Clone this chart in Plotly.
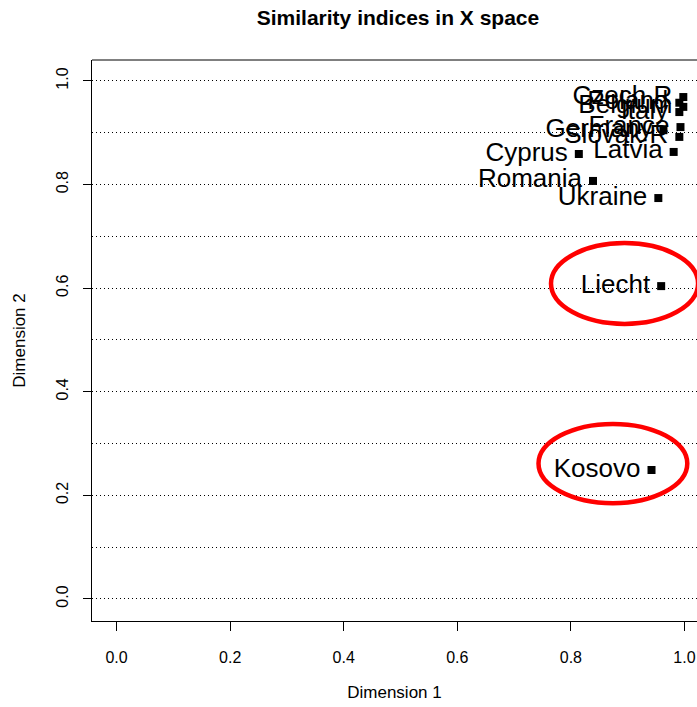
import plotly.graph_objects as go

countries = ["Czech R", "Poland", "Belgium", "Italy", "France", "Germany", "Slovak R",
             "Cyprus", "Latvia", "Romania", "Ukraine", "Liecht", "Kosovo"]
dim1 = [0.998, 0.991, 0.998, 0.991, 0.993, 0.963, 0.991, 0.814, 0.981, 0.839, 0.954, 0.959, 0.942]
dim2 = [0.969, 0.958, 0.950, 0.940, 0.911, 0.905, 0.892, 0.859, 0.863, 0.807, 0.774, 0.604, 0.249]

x_ticks = [0.0, 0.2, 0.4, 0.6, 0.8, 1.0]
y_ticks = [0.0, 0.2, 0.4, 0.6, 0.8, 1.0]

# highlighted regions (data coords)
ellipses = [
    dict(x0=0.765, x1=1.024, y0=0.531, y1=0.687),  # Liecht
    dict(x0=0.743, x1=1.005, y0=0.185, y1=0.338),  # Kosovo
]

FONT = "Liberation Sans, Arial, sans-serif"
X_RANGE = [-0.0433, 1.0221]

fig = go.Figure()
# labels placed to the left of each point
fig.add_trace(go.Scatter(
    x=dim1, y=dim2, mode="text+markers", text=countries,
    textposition="middle left",
    textfont=dict(family=FONT, size=26, color="black"),
    marker=dict(symbol="square", size=16, color="rgba(0,0,0,0)"),
    cliponaxis=False, showlegend=False, hoverinfo="skip",
))
# points (on an overlaid x axis that carries the visible short ticks)
fig.add_trace(go.Scatter(
    x=dim1, y=dim2, mode="markers", text=countries, xaxis="x2", yaxis="y",
    marker=dict(symbol="square", size=8, color="black"),
    cliponaxis=False, showlegend=False, hoverinfo="text",
))

shapes = []
for e in ellipses:
    shapes.append(dict(type="circle", xref="x", yref="y", **e,
                       line=dict(color="#ff0000", width=4.5), layer="above"))
# top frame line
shapes.append(dict(type="line", xref="paper", yref="paper", x0=0, x1=1, y0=1, y1=1,
                   line=dict(color="black", width=1)))

fig.update_layout(
    width=697, height=707,
    margin=dict(l=92, r=0, t=60, b=86),
    paper_bgcolor="white", plot_bgcolor="white",
    font=dict(family=FONT, size=15, color="black"),
    title=dict(text="<b>Similarity indices in X space</b>", x=0.571, xanchor="center",
               y=1 - 18 / 707, yanchor="middle", font=dict(family=FONT, size=21, color="black")),
    shapes=shapes,
    xaxis=dict(
        range=X_RANGE, tickvals=x_ticks, ticktext=[f"{v:.1f}" for v in x_ticks],
        showgrid=False, zeroline=False, showline=True, linecolor="black", linewidth=1,
        ticks="outside", ticklen=22, tickcolor="rgba(0,0,0,0)",
        tickfont=dict(family=FONT, size=16, color="black"),
        title=dict(text="Dimension 1", font=dict(family=FONT, size=17, color="black"), standoff=20),
    ),
    xaxis2=dict(
        range=X_RANGE, tickvals=x_ticks, overlaying="x", anchor="y", side="bottom",
        showticklabels=False, showgrid=False, zeroline=False, showline=False,
        ticks="outside", ticklen=9, tickcolor="black",
    ),
    yaxis=dict(
        range=[-0.0425, 1.0405], tickvals=y_ticks, ticktext=[f"{v:.1f}" for v in y_ticks],
        tickangle=-90,
        showgrid=True, gridcolor="black", gridwidth=1, griddash="1px,3px",
        minor=dict(dtick=0.1, showgrid=True, gridcolor="black", gridwidth=1, griddash="1px,3px"),
        zeroline=False, showline=True, linecolor="black", linewidth=1,
        ticks="outside", ticklen=8, tickcolor="black", ticklabelstandoff=9,
        tickfont=dict(family=FONT, size=16, color="black"),
        title=dict(text="Dimension 2", font=dict(family=FONT, size=17, color="black"), standoff=23),
    ),
)

fig.write_html("out.html", config={"displayModeBar": False},
               post_script="document.body.style.margin='0';document.body.style.overflow='hidden';")
